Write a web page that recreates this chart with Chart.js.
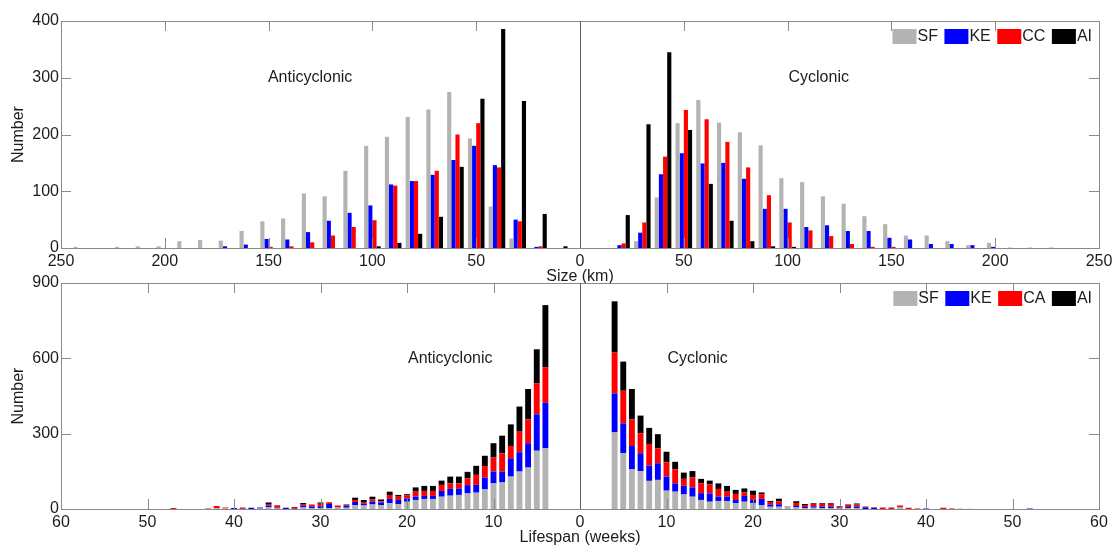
<!DOCTYPE html>
<html lang="en">
<head>
<meta charset="UTF-8">
<title>Eddy size and lifespan</title>
<style>
  html, body { margin: 0; padding: 0; background: #fff; }
  .panel { position: absolute; left: 0; width: 1113px; }
  #sizePanel { top: 0; height: 286px; }
  #lifePanel { top: 262px; height: 285px; }
</style>
</head>
<body>
<div class="panel" id="sizePanel"><canvas id="sizeChart"></canvas></div>
<div class="panel" id="lifePanel"><canvas id="lifeChart"></canvas></div>

<script src="https://cdn.jsdelivr.net/npm/chart.js@4.4.1/dist/chart.umd.min.js"></script>
<script>
  // ---- size histogram (km), 10 km bins ----
  const sizeBins = [10, 20, 30, 40, 50, 60, 70, 80, 90, 100, 110, 120,
                    130, 140, 150, 160, 170, 180, 190, 200, 210, 220, 230, 240];
  const sizeLabels = ['SF', 'KE', 'CC', 'AI'];

  const antiSizeSF = [0, 0, 17, 73, 193, 275, 244, 231, 196, 180, 136, 91, 96, 52, 47, 30, 13, 14, 12, 3, 3, 2, 0, 2];
  const antiSizeKE = [0, 2, 50, 146, 180, 155, 129, 118, 112, 75, 62, 48, 28, 15, 16, 6, 3, 0, 0, 0, 0, 0, 0, 0];
  const antiSizeCC = [0, 3, 47, 142, 220, 200, 136, 118, 110, 49, 37, 22, 10, 3, 2, 0, 0, 0, 0, 0, 0, 0, 0, 0];
  const antiSizeAI = [3, 60, 259, 386, 263, 143, 55, 25, 9, 3, 0, 0, 0, 0, 0, 0, 0, 0, 0, 0, 0, 0, 0, 0];

  const cycSizeSF = [0, 0, 12, 89, 220, 261, 221, 204, 181, 123, 116, 91, 78, 56, 42, 22, 22, 12, 5, 9, 1, 1, 1, 0];
  const cycSizeKE = [0, 5, 27, 130, 167, 149, 150, 122, 69, 69, 37, 40, 30, 30, 18, 15, 7, 7, 5, 2, 0, 0, 0, 0];
  const cycSizeCC = [0, 8, 45, 161, 243, 227, 187, 142, 93, 45, 31, 21, 7, 2, 2, 0, 0, 0, 0, 0, 0, 0, 0, 0];
  const cycSizeAI = [0, 58, 218, 345, 208, 113, 48, 12, 3, 2, 0, 0, 0, 0, 0, 0, 0, 0, 0, 0, 0, 0, 0, 0];

  // ---- lifespan histogram (weeks), 1 week bins starting at 4 ----
  const weekBins = [4, 5, 6, 7, 8, 9, 10, 11, 12, 13, 14, 15, 16, 17, 18, 19, 20, 21, 22, 23, 24, 25, 26, 27, 28,
                    29, 30, 31, 32, 33, 34, 35, 36, 37, 38, 39, 40, 41, 42, 43, 44, 45, 46, 47, 48, 49, 50, 51, 52];
  const lifeLabels = ['SF', 'KE', 'CA', 'AI'];

  const antiLifeSF = [242, 232, 165, 149, 129, 106, 102, 78, 65, 62, 56, 53, 49, 40, 40, 36, 29, 20, 23, 16, 18, 14, 16, 5, 6,
                      4, 4, 4, 6, 0, 0, 2, 8, 2, 0, 0, 0, 2, 4, 0, 0, 0, 0, 0, 0, 0, 0, 0, 0];
  const antiLifeKE = [181, 145, 97, 77, 73, 43, 47, 47, 31, 33, 26, 27, 23, 12, 12, 13, 13, 16, 17, 10, 12, 8, 12, 8, 2,
                      16, 7, 6, 8, 2, 5, 3, 6, 4, 5, 1, 4, 0, 0, 0, 0, 0, 0, 0, 0, 0, 0, 0, 0];
  const antiLifeCA = [142, 124, 95, 82, 49, 73, 56, 46, 40, 27, 20, 22, 24, 20, 20, 20, 13, 13, 16, 4, 9, 6, 8, 3, 6,
                      7, 10, 8, 6, 6, 0, 10, 6, 0, 0, 5, 0, 4, 8, 2, 0, 0, 0, 4, 0, 0, 0, 0, 0];
  const antiLifeAI = [247, 135, 121, 100, 86, 70, 57, 41, 36, 26, 27, 27, 17, 20, 20, 17, 4, 7, 13, 8, 10, 8, 9, 2, 0,
                      0, 5, 0, 4, 0, 0, 0, 6, 0, 0, 0, 0, 0, 0, 0, 0, 0, 0, 0, 0, 0, 0, 0, 0];

  const cycLifeSF = [305, 223, 158, 151, 112, 116, 73, 69, 58, 49, 36, 29, 32, 32, 23, 29, 23, 16, 9, 9, 10, 6, 4, 5, 4,
                     4, 2, 3, 4, 0, 0, 0, 0, 6, 0, 0, 0, 0, 0, 0, 2, 1, 0, 0, 0, 0, 0, 0, 0];
  const cycLifeKE = [155, 118, 93, 71, 61, 66, 56, 33, 35, 37, 27, 33, 17, 17, 13, 23, 13, 24, 9, 10, 0, 6, 4, 6, 6,
                     6, 4, 5, 6, 7, 5, 0, 0, 0, 0, 0, 2, 0, 0, 0, 0, 0, 0, 0, 0, 0, 0, 0, 2];
  const cycLifeCA = [163, 130, 106, 80, 86, 60, 57, 56, 27, 40, 40, 36, 31, 20, 24, 14, 20, 19, 10, 12, 2, 12, 8, 10, 10,
                     10, 6, 8, 8, 3, 2, 6, 6, 8, 5, 2, 0, 0, 5, 2, 0, 0, 0, 0, 0, 0, 0, 0, 0];
  const cycLifeAI = [204, 116, 121, 70, 64, 56, 42, 30, 25, 25, 17, 15, 22, 23, 16, 16, 17, 7, 4, 10, 0, 7, 4, 3, 3,
                     3, 0, 2, 4, 0, 0, 0, 0, 0, 0, 0, 0, 0, 0, 0, 0, 0, 0, 0, 0, 0, 0, 0, 0];

  // panel captions, placed in data units
  const sizeCaptions = [{text: 'Anticyclonic', x: -130, y: 300}, {text: 'Cyclonic', x: 115, y: 300}];
  const lifeCaptions = [{text: 'Anticyclonic', x: -15, y: 600}, {text: 'Cyclonic', x: 13.6, y: 600}];

  const seriesColors = ['#b3b3b3', '#0000ff', '#ff0000', '#000000'];
  const axisGrey = '#8a8a8a';
  const textColor = '#1c1c1c';

  Chart.defaults.font.family = '"Liberation Sans", Arial, sans-serif';
  Chart.defaults.font.size = 16;
  Chart.defaults.color = textColor;

  // anticyclonic on the negative side, cyclonic on the positive side
  function mirrored(bins, anti, cyc) {
    const pts = [];
    bins.forEach((b, i) => pts.push({x: -b, y: anti[i]}));
    bins.forEach((b, i) => pts.push({x: b, y: cyc[i]}));
    return pts;
  }

  // box around the plot, inward ticks on all four sides, divider at zero
  const frameTicks = {
    id: 'frameTicks',
    afterDatasetsDraw(chart) {
      const {ctx, chartArea: a, scales: {x, y}} = chart;
      const len = 10;
      ctx.save();
      ctx.lineWidth = 1;
      ctx.strokeStyle = axisGrey;
      ctx.beginPath();
      x.ticks.forEach(t => {
        const px = Math.round(x.getPixelForValue(t.value)) + 0.5;
        ctx.moveTo(px, a.bottom); ctx.lineTo(px, a.bottom - len);
        ctx.moveTo(px, a.top); ctx.lineTo(px, a.top + len);
      });
      y.ticks.forEach(t => {
        const py = Math.round(y.getPixelForValue(t.value)) + 0.5;
        ctx.moveTo(a.left, py); ctx.lineTo(a.left + len, py);
        ctx.moveTo(a.right, py); ctx.lineTo(a.right - len, py);
      });
      ctx.stroke();
      ctx.strokeRect(Math.round(a.left) + 0.5, Math.round(a.top) + 0.5,
                     Math.round(a.width), Math.round(a.height));
      const zx = Math.round(x.getPixelForValue(0)) + 0.5;
      ctx.strokeStyle = '#606060';
      ctx.beginPath();
      ctx.moveTo(zx, a.top); ctx.lineTo(zx, a.bottom);
      ctx.stroke();
      ctx.restore();
    }
  };

  // "Anticyclonic" / "Cyclonic" captions
  const captions = {
    id: 'captions',
    afterDatasetsDraw(chart, args, opts) {
      const {ctx, scales: {x, y}} = chart;
      ctx.save();
      ctx.font = '16px "Liberation Sans", Arial, sans-serif';
      ctx.fillStyle = textColor;
      ctx.textAlign = 'center';
      ctx.textBaseline = 'middle';
      (opts.items || []).forEach(c => {
        ctx.fillText(c.text, x.getPixelForValue(c.x), y.getPixelForValue(c.y));
      });
      ctx.restore();
    }
  };

  // compact legend in the upper right corner of the plot
  const cornerLegend = {
    id: 'cornerLegend',
    afterDraw(chart) {
      const {ctx, chartArea: a} = chart;
      const boxW = 24, boxH = 15, gap = 1, spacing = 6.5;
      ctx.save();
      ctx.font = '16px "Liberation Sans", Arial, sans-serif';
      ctx.textBaseline = 'middle';
      const items = chart.data.datasets.map(d => ({label: d.label, color: d.backgroundColor,
                                                   w: ctx.measureText(d.label).width}));
      const total = items.reduce((s, it) => s + boxW + gap + it.w, 0) + spacing * (items.length - 1);
      let xPos = a.right - 7 - total;
      const top = a.top + 8;
      items.forEach(it => {
        ctx.fillStyle = it.color;
        ctx.fillRect(xPos, top, boxW, boxH);
        ctx.fillStyle = textColor;
        ctx.fillText(it.label, xPos + boxW + gap, top + boxH / 2 + 0.5);
        xPos += boxW + gap + it.w + spacing;
      });
      ctx.restore();
    }
  };

  function panelOptions(xMax, xStep, yMax, yStep, xTitle, items, stacked) {
    return {
      responsive: true,
      maintainAspectRatio: false,
      animation: false,
      events: [],
      layout: {padding: {top: 21, right: 14, left: 0, bottom: 0}},
      plugins: {
        legend: {display: false},
        tooltip: {enabled: false},
        captions: {items: items}
      },
      scales: {
        x: {
          type: 'linear',
          min: -xMax,
          max: xMax,
          offset: false,
          stacked: stacked,
          grid: {display: false, drawTicks: false, offset: false},
          border: {display: false},
          ticks: {
            stepSize: xStep,
            padding: 4,
            maxRotation: 0,
            color: textColor,
            callback: v => Math.abs(v)
          },
          title: {display: true, text: xTitle, color: textColor, padding: 0},
          afterFit: s => {
            s.height = 38;
            // end labels may hang past the plot edge
            s.paddingLeft = 0;
            s.paddingRight = 0;
          }
        },
        y: {
          min: 0,
          max: yMax,
          stacked: stacked,
          grid: {display: false, drawTicks: false},
          border: {display: false},
          ticks: {stepSize: yStep, padding: 2, color: textColor},
          title: {display: true, text: 'Number', color: textColor, padding: {top: 9, bottom: 0}},
          afterFit: s => { s.width = 61; }
        }
      }
    };
  }

  const sizeSeries = [
    [antiSizeSF, cycSizeSF], [antiSizeKE, cycSizeKE], [antiSizeCC, cycSizeCC], [antiSizeAI, cycSizeAI]
  ];
  new Chart(document.getElementById('sizeChart'), {
    type: 'bar',
    data: {
      datasets: sizeSeries.map((s, i) => ({
        label: sizeLabels[i],
        data: mirrored(sizeBins, s[0], s[1]),
        backgroundColor: seriesColors[i],
        borderWidth: 0,
        categoryPercentage: 0.8,
        barPercentage: 1.0
      }))
    },
    options: panelOptions(250, 50, 400, 100, 'Size (km)', sizeCaptions, false),
    plugins: [frameTicks, captions, cornerLegend]
  });

  const lifeSeries = [
    [antiLifeSF, cycLifeSF], [antiLifeKE, cycLifeKE], [antiLifeCA, cycLifeCA], [antiLifeAI, cycLifeAI]
  ];
  new Chart(document.getElementById('lifeChart'), {
    type: 'bar',
    data: {
      datasets: lifeSeries.map((s, i) => ({
        label: lifeLabels[i],
        data: mirrored(weekBins, s[0], s[1]),
        backgroundColor: seriesColors[i],
        borderWidth: 0,
        categoryPercentage: 0.8,
        barPercentage: 0.85
      }))
    },
    options: panelOptions(60, 10, 900, 300, 'Lifespan (weeks)', lifeCaptions, true),
    plugins: [frameTicks, captions, cornerLegend]
  });
</script>
</body>
</html>
